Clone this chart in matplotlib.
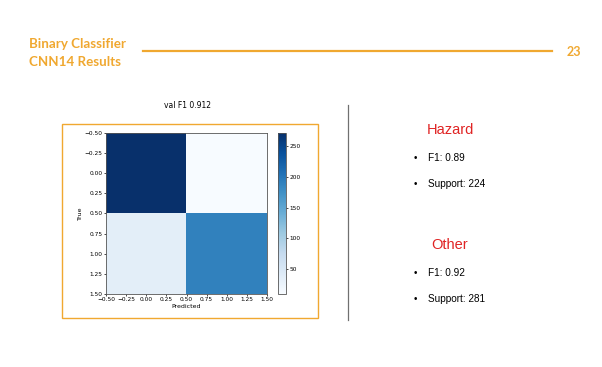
import matplotlib.pyplot as plt
from matplotlib.patches import Rectangle
import numpy as np

# confusion matrix (rows = true, cols = predicted)
conf_matrix = [[272, 9],
               [35, 189]]
val_f1 = 0.912

class_names = ['Hazard', 'Other']
class_f1 = [0.89, 0.92]
class_support = [224, 281]

slide_title = ['Binary Classifier', 'CNN14 Results']
page_number = '23'

orange = '#F0A830'
red = '#E02424'

W, H = 602, 367
fig = plt.figure(figsize=(W / 100, H / 100), dpi=100)
fig.patch.set_facecolor('white')


def fx(px):
    return px / W


def fy(py):
    return 1 - py / H


# header
fig.text(fx(29), fy(44), slide_title[0], color=orange, fontsize=9.6, fontweight='bold',
         family='Lato', va='center', ha='left')
fig.text(fx(29), fy(62), slide_title[1], color=orange, fontsize=9.6, fontweight='bold',
         family='Lato', va='center', ha='left')
fig.add_artist(plt.Line2D([fx(143), fx(552)], [fy(51), fy(51)], color=orange, lw=1.6))
fig.text(fx(574), fy(52), page_number, color=orange, fontsize=9, fontweight='bold',
         family='Lato', va='center', ha='center')

# frame around the plot image
fig.add_artist(Rectangle((fx(62), fy(318)), fx(256), 194 / H, fill=False,
                         edgecolor=orange, lw=1.0))
fig.text(fx(187), fy(106), f'val F1 {val_f1}', fontsize=5.5, ha='center', va='center')

# heatmap
ax = fig.add_axes([fx(106), fy(294), fx(161), 161 / H])
im = ax.imshow(np.array(conf_matrix), cmap='Blues')
ax.set_xlabel('Predicted', fontsize=4.5, labelpad=1)
ax.set_ylabel('True', fontsize=4.5, labelpad=1)
ax.tick_params(labelsize=4.2, length=1.5, width=0.5, pad=1)
for s in ax.spines.values():
    s.set_linewidth(0.6)
    s.set_color('#555555')

cax = fig.add_axes([fx(278), fy(294), fx(8), 161 / H])
cb = fig.colorbar(im, cax=cax)
cb.set_ticks([50, 100, 150, 200, 250])
cb.ax.tick_params(labelsize=4.2, length=1.5, width=0.5, pad=1)
cb.outline.set_linewidth(0.6)
cb.outline.set_edgecolor('#555555')

# divider
fig.add_artist(plt.Line2D([fx(348), fx(348)], [fy(105), fy(320)], color='#707070', lw=0.9))

# per-class stats
heads = [130, 245]
for i, name in enumerate(class_names):
    y0 = heads[i]
    fig.text(fx(450), fy(y0), name, color=red, fontsize=10.5, family='Liberation Sans',
             ha='center', va='center')
    lines = [f'F1: {class_f1[i]}', f'Support: {class_support[i]}']
    for j, t in enumerate(lines):
        yy = y0 + 28 + 26 * j
        fig.text(fx(415), fy(yy), '\u2022', fontsize=7, family='Liberation Sans',
                 ha='center', va='center')
        fig.text(fx(428), fy(yy), t, fontsize=7.2, family='Liberation Sans',
                 ha='left', va='center')

fig.savefig('out.png', dpi=100)
